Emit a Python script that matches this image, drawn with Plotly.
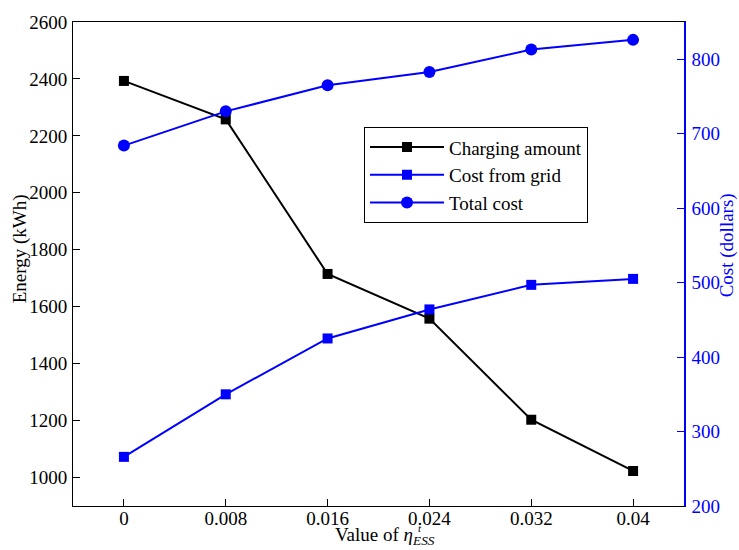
import plotly.graph_objects as go

eta = [0, 0.008, 0.016, 0.024, 0.032, 0.04]
eta_labels = ["0", "0.008", "0.016", "0.024", "0.032", "0.04"]
charging_amount = [2393, 2258, 1715, 1558, 1203, 1023]
cost_from_grid = [266, 350, 425, 464, 497, 505]
total_cost = [684, 730, 765, 783, 813, 826]

left_ticks = [1000, 1200, 1400, 1600, 1800, 2000, 2200, 2400, 2600]
right_ticks = [200, 300, 400, 500, 600, 700, 800]

FONT = "Liberation Serif"
BLUE = "#0000ff"

fig = go.Figure()
fig.add_trace(go.Scatter(x=eta, y=charging_amount, name="Charging amount",
                         mode="lines+markers", line=dict(color="black", width=2),
                         marker=dict(symbol="square", size=10, color="black"),
                         yaxis="y"))
fig.add_trace(go.Scatter(x=eta, y=cost_from_grid, name="Cost from grid",
                         mode="lines+markers", line=dict(color=BLUE, width=2),
                         marker=dict(symbol="square", size=10, color=BLUE),
                         yaxis="y2"))
fig.add_trace(go.Scatter(x=eta, y=total_cost, name="Total cost",
                         mode="lines+markers", line=dict(color=BLUE, width=2),
                         marker=dict(symbol="circle", size=12, color=BLUE),
                         yaxis="y2"))

L, R, T, B = 73, 55, 14, 44
W, H = 739, 550
pw, ph = W - L - R, H - T - B

def px(x):
    return (x - L) / pw

def py(y):
    return 1 - (y - T) / ph

fig.update_layout(
    width=W, height=H,
    margin=dict(l=L, r=R, t=T, b=B),
    paper_bgcolor="white", plot_bgcolor="white",
    font=dict(family=FONT, size=19, color="black"),
    showlegend=True,
    legend=dict(x=px(364), y=py(121), xanchor="left", yanchor="top",
                bgcolor="white", bordercolor="black", borderwidth=1,
                font=dict(family=FONT, size=19, color="black"),
                tracegroupgap=0, itemwidth=74),
    xaxis=dict(range=[-0.004, 0.044], tickvals=eta, ticktext=eta_labels,
               showgrid=False, zeroline=False, showline=True, linecolor="black",
               linewidth=1, mirror=True, ticks="inside", ticklen=7, tickcolor="black",
               tickfont=dict(family=FONT, size=19, color="black"),
               ticklabelstandoff=-5),
    yaxis=dict(range=[900, 2600], tickvals=left_ticks,
               showgrid=False, zeroline=False, showline=True, linecolor="black",
               linewidth=1, ticks="inside", ticklen=7, tickcolor="black",
               tickfont=dict(family=FONT, size=19, color="black"),
               ticklabelstandoff=1),
    yaxis2=dict(range=[200, 850], tickvals=right_ticks, overlaying="y", side="right",
                showgrid=False, zeroline=False, showline=True, linecolor=BLUE,
                linewidth=1.5, ticks="inside", ticklen=7, tickcolor=BLUE,
                tickfont=dict(family=FONT, size=19, color=BLUE),
                ticklabelstandoff=2),
    annotations=[
        dict(text="Energy (kWh)", xref="paper", yref="paper", x=px(20), y=py(245),
             textangle=-90, showarrow=False, xanchor="center", yanchor="middle",
             font=dict(family=FONT, size=19, color="black")),
        dict(text="Cost (dollars)", xref="paper", yref="paper", x=px(727), y=py(241),
             textangle=-90, showarrow=False, xanchor="center", yanchor="middle",
             font=dict(family=FONT, size=19, color=BLUE)),
        dict(text="Value of <i>η</i><sub><i>ESS</i></sub>", xref="paper", yref="paper",
             x=px(385), y=py(537), showarrow=False, xanchor="center", yanchor="middle",
             font=dict(family=FONT, size=19, color="black")),
        dict(text="<i>t</i>", xref="paper", yref="paper", x=px(420), y=py(528),
             showarrow=False, xanchor="center", yanchor="middle",
             font=dict(family=FONT, size=11, color="black")),
    ],
)

fig.write_html("out.html")
